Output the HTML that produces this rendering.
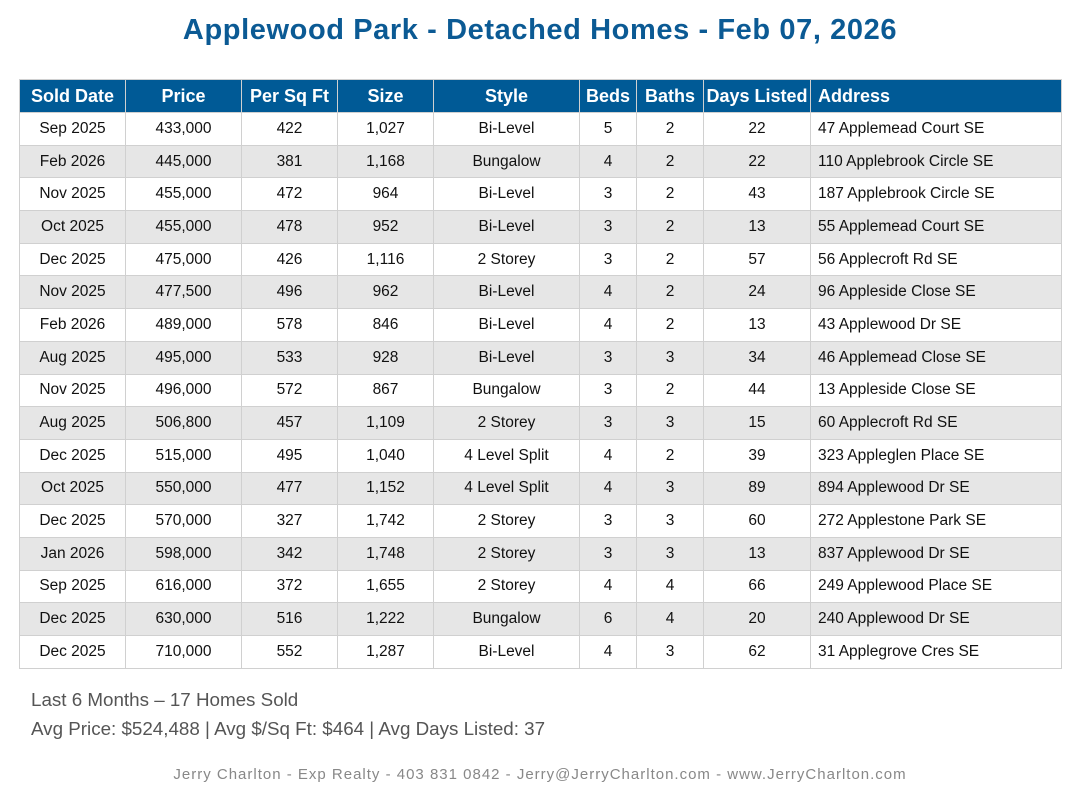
<!DOCTYPE html>
<html><head><style>
body{margin:0;width:1080px;height:803px;background:#fff;font-family:"Liberation Sans",sans-serif;position:relative;overflow:hidden}
h1{position:absolute;top:14px;left:0;width:1080px;text-align:center;margin:0;font-size:29px;letter-spacing:0.6px;color:#0b5a94;font-weight:bold}
table{position:absolute;left:19px;top:79px;width:1042px;border-collapse:collapse;table-layout:fixed;font-size:15.5px;color:#111}
th{background:#005a96;color:#fff;font-size:18px;height:32px;border:1px solid #d0d0d0;padding:0;font-weight:bold}
td{height:31.7px;border:1px solid #d0d0d0;text-align:center;padding:0}
td:last-child{text-align:left;padding-left:7px}
th:last-child{text-align:left;padding-left:7px}
tr:nth-child(odd) td{background:#e6e6e6}
.s{position:absolute;left:31px;color:#555;font-size:18.8px}
.f{position:absolute;top:766px;left:0;width:1080px;text-align:center;color:#888;font-size:15px;letter-spacing:1px}
</style></head><body>
<h1>Applewood Park - Detached Homes - Feb 07, 2026</h1>
<table>
<colgroup><col style="width:106px"><col style="width:116px"><col style="width:96px"><col style="width:96px"><col style="width:146px"><col style="width:57px"><col style="width:67px"><col style="width:107px"><col style="width:251px"></colgroup>
<tr><th>Sold Date</th><th>Price</th><th>Per Sq Ft</th><th>Size</th><th>Style</th><th>Beds</th><th>Baths</th><th>Days Listed</th><th>Address</th></tr>
<tr><td>Sep 2025</td><td>433,000</td><td>422</td><td>1,027</td><td>Bi-Level</td><td>5</td><td>2</td><td>22</td><td>47 Applemead Court SE</td></tr>
<tr><td>Feb 2026</td><td>445,000</td><td>381</td><td>1,168</td><td>Bungalow</td><td>4</td><td>2</td><td>22</td><td>110 Applebrook Circle SE</td></tr>
<tr><td>Nov 2025</td><td>455,000</td><td>472</td><td>964</td><td>Bi-Level</td><td>3</td><td>2</td><td>43</td><td>187 Applebrook Circle SE</td></tr>
<tr><td>Oct 2025</td><td>455,000</td><td>478</td><td>952</td><td>Bi-Level</td><td>3</td><td>2</td><td>13</td><td>55 Applemead Court SE</td></tr>
<tr><td>Dec 2025</td><td>475,000</td><td>426</td><td>1,116</td><td>2 Storey</td><td>3</td><td>2</td><td>57</td><td>56 Applecroft Rd SE</td></tr>
<tr><td>Nov 2025</td><td>477,500</td><td>496</td><td>962</td><td>Bi-Level</td><td>4</td><td>2</td><td>24</td><td>96 Appleside Close SE</td></tr>
<tr><td>Feb 2026</td><td>489,000</td><td>578</td><td>846</td><td>Bi-Level</td><td>4</td><td>2</td><td>13</td><td>43 Applewood Dr SE</td></tr>
<tr><td>Aug 2025</td><td>495,000</td><td>533</td><td>928</td><td>Bi-Level</td><td>3</td><td>3</td><td>34</td><td>46 Applemead Close SE</td></tr>
<tr><td>Nov 2025</td><td>496,000</td><td>572</td><td>867</td><td>Bungalow</td><td>3</td><td>2</td><td>44</td><td>13 Appleside Close SE</td></tr>
<tr><td>Aug 2025</td><td>506,800</td><td>457</td><td>1,109</td><td>2 Storey</td><td>3</td><td>3</td><td>15</td><td>60 Applecroft Rd SE</td></tr>
<tr><td>Dec 2025</td><td>515,000</td><td>495</td><td>1,040</td><td>4 Level Split</td><td>4</td><td>2</td><td>39</td><td>323 Appleglen Place SE</td></tr>
<tr><td>Oct 2025</td><td>550,000</td><td>477</td><td>1,152</td><td>4 Level Split</td><td>4</td><td>3</td><td>89</td><td>894 Applewood Dr SE</td></tr>
<tr><td>Dec 2025</td><td>570,000</td><td>327</td><td>1,742</td><td>2 Storey</td><td>3</td><td>3</td><td>60</td><td>272 Applestone Park SE</td></tr>
<tr><td>Jan 2026</td><td>598,000</td><td>342</td><td>1,748</td><td>2 Storey</td><td>3</td><td>3</td><td>13</td><td>837 Applewood Dr SE</td></tr>
<tr><td>Sep 2025</td><td>616,000</td><td>372</td><td>1,655</td><td>2 Storey</td><td>4</td><td>4</td><td>66</td><td>249 Applewood Place SE</td></tr>
<tr><td>Dec 2025</td><td>630,000</td><td>516</td><td>1,222</td><td>Bungalow</td><td>6</td><td>4</td><td>20</td><td>240 Applewood Dr SE</td></tr>
<tr><td>Dec 2025</td><td>710,000</td><td>552</td><td>1,287</td><td>Bi-Level</td><td>4</td><td>3</td><td>62</td><td>31 Applegrove Cres SE</td></tr>
</table>
<div class="s" style="top:689px">Last 6 Months – 17 Homes Sold</div>
<div class="s" style="top:718px">Avg Price: $524,488 | Avg $/Sq Ft: $464 | Avg Days Listed: 37</div>
<div class="f">Jerry Charlton - Exp Realty - 403 831 0842 - Jerry@JerryCharlton.com - www.JerryCharlton.com</div>
</body></html>
